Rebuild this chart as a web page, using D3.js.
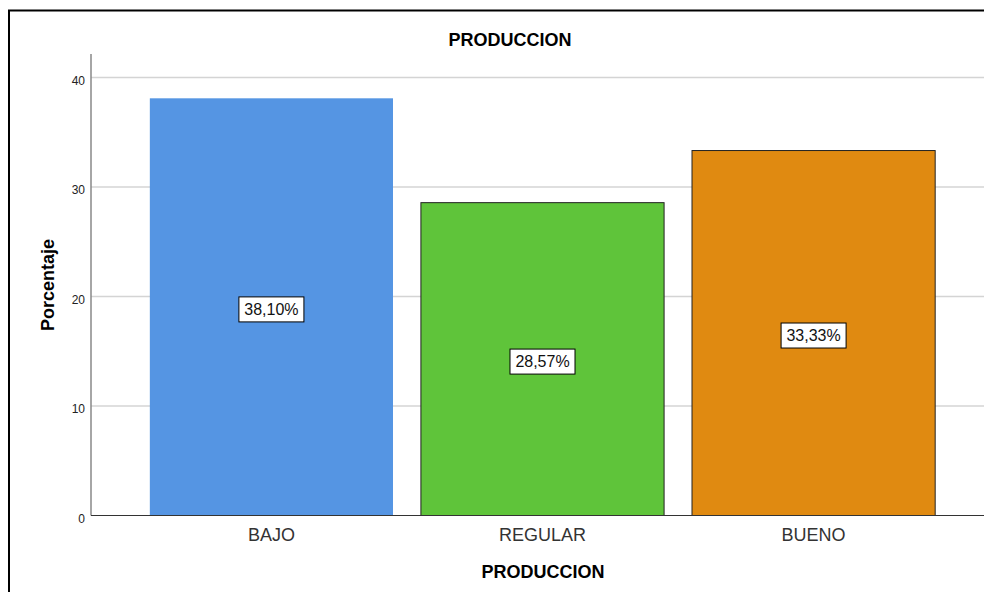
<!DOCTYPE html>
<html><head><meta charset="utf-8">
<script src="https://cdn.jsdelivr.net/npm/d3@7"></script>
<style>body{margin:0;background:#fff}svg{display:block;font-family:Arial,"Liberation Sans",sans-serif}</style>
</head><body><svg id="c" width="984" height="592"></svg>
<script>
const categories = ["BAJO","REGULAR","BUENO"];
const values = [38.10, 28.57, 33.33];
const valueLabels = ["38,10%","28,57%","33,33%"];
const barColors = ["#5595e3","#5fc43a","#e08a11"];
const barStrokes = ["none","#222","#222"];
const yTicks = [0,10,20,30,40];
const title = "PRODUCCION";
const xTitle = "PRODUCCION";
const yTitle = "Porcentaje";

const svg = d3.select("#c");
const x0 = 91, yBase = 515.5;
const x = d3.scaleBand().domain(categories).range([x0, 994]).paddingInner(0.103).paddingOuter(0.217);
const y = d3.scaleLinear().domain([0,40]).range([yBase, 77.5]);

// outer frame
svg.append("rect").attr("x",9).attr("y",10.5).attr("width",1000).attr("height",620)
  .attr("fill","none").attr("stroke","#000").attr("stroke-width",2);

// gridlines
svg.append("g").selectAll("line").data(yTicks.filter(d=>d>0)).join("line")
  .attr("x1",x0).attr("x2",984).attr("y1",d=>y(d)).attr("y2",d=>y(d))
  .attr("stroke","#d4d4d4").attr("stroke-width",1.5);

// bars
svg.append("g").selectAll("rect").data(values).join("rect")
  .attr("x",(d,i)=>x(categories[i])).attr("width",x.bandwidth())
  .attr("y",d=>y(d)).attr("height",d=>yBase-y(d))
  .attr("fill",(d,i)=>barColors[i])
  .attr("stroke",(d,i)=>barStrokes[i]).attr("stroke-width",1);

// y axis
const yAxis = d3.axisLeft(y).tickValues(yTicks).tickSize(0).tickPadding(6);
const ya = svg.append("g").attr("transform",`translate(${x0},0)`).call(yAxis);
ya.select(".domain").remove();
ya.selectAll("text").attr("font-size",12).attr("fill","#222").attr("font-family","Arial, 'Liberation Sans', sans-serif").attr("dy","0.55em");
svg.append("line").attr("x1",x0).attr("x2",x0).attr("y1",54).attr("y2",yBase)
  .attr("stroke","#888").attr("stroke-width",1.5);

// x axis
const xAxis = d3.axisBottom(x).tickSize(0).tickPadding(13);
const xa = svg.append("g").attr("transform",`translate(0,${yBase})`).call(xAxis);
xa.select(".domain").remove();
xa.selectAll("text").attr("font-size",18).attr("fill","#333").attr("font-family","Arial, 'Liberation Sans', sans-serif").attr("dy","0.72em");
svg.append("line").attr("x1",x0).attr("x2",984).attr("y1",yBase).attr("y2",yBase)
  .attr("stroke","#333").attr("stroke-width",1.2);

// value labels
const lg = svg.append("g").selectAll("g").data(values).join("g")
  .attr("transform",(d,i)=>`translate(${x(categories[i])+x.bandwidth()/2},${(y(d)+yBase)/2+2.5})`);
lg.append("rect").attr("x",-32.5).attr("y",-12.5).attr("width",65).attr("height",25)
  .attr("fill","#fff").attr("stroke","#000").attr("stroke-width",1);
lg.append("text").text((d,i)=>valueLabels[i]).attr("text-anchor","middle").attr("dy","0.36em")
  .attr("font-size",16).attr("fill","#111");

// titles
svg.append("text").text(title).attr("x",510).attr("y",46).attr("text-anchor","middle")
  .attr("font-size",18).attr("font-weight","bold").attr("fill","#000");
svg.append("text").text(xTitle).attr("x",543).attr("y",578).attr("text-anchor","middle")
  .attr("font-size",18).attr("font-weight","bold").attr("fill","#000");
svg.append("text").text(yTitle).attr("transform","translate(54,285) rotate(-90)").attr("text-anchor","middle")
  .attr("font-size",18).attr("font-weight","bold").attr("fill","#000");
</script></body></html>
